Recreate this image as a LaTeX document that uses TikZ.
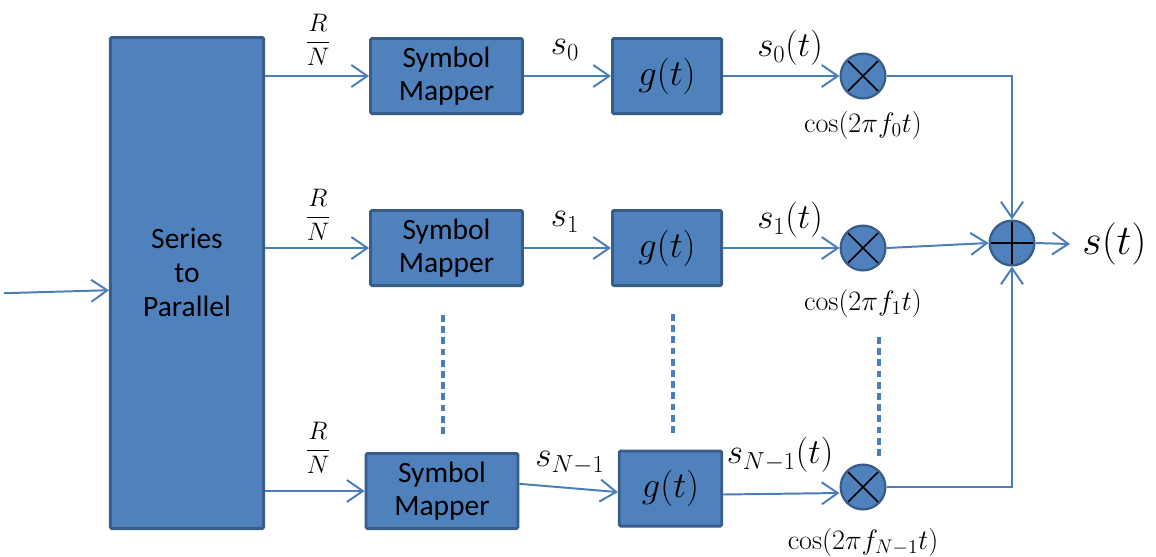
\documentclass[tikz,border=0pt]{standalone}
\usepackage{fix-cm}
\usepackage{amsmath}
\usepackage[no-math]{fontspec}
\setmainfont{Carlito}
\usetikzlibrary{positioning,calc,arrows,arrows.meta}
\definecolor{blkfill}{HTML}{4F81BD}
\definecolor{blkline}{HTML}{385D8A}
\definecolor{wirec}{HTML}{4A7EBB}

\begin{document}
\begin{tikzpicture}[
	blk/.style={draw=blkline, fill=blkfill, line width=2pt, rounded corners=1pt, inner sep=0pt, align=center, font=\fontsize{21}{24}\selectfont},
	sm/.style={blk, minimum width=3.8cm, minimum height=1.88cm},
	gf/.style={blk, minimum width=2.73cm, minimum height=1.88cm, font=\fontsize{26}{28}\selectfont},
	mul/.style={circle, draw=blkline, fill=blkfill, line width=1.6pt, minimum size=1.12cm, inner sep=0pt,
		path picture={\draw[black, line width=1.1pt] (path picture bounding box.center) +(45:0.6) -- +(225:0.6)
			(path picture bounding box.center) +(135:0.6) -- +(-45:0.6);}},
	add/.style={circle, draw=blkline, fill=blkfill, line width=1.6pt, minimum size=1.12cm, inner sep=0pt,
		path picture={\draw[black, line width=1pt] (path picture bounding box.center) +(0:0.6) -- +(180:0.6)
			(path picture bounding box.center) +(90:0.6) -- +(270:0.6);}},
	sig/.style={draw=wirec, line width=1.4pt, -{Straight Barb[length=4mm,width=5.5mm]}},
	conn/.style={draw=wirec, line width=1.4pt},
	dots/.style={draw=wirec, line width=2.2pt, dash pattern=on 0.17cm off 0.11cm},
	lbl/.style={inner sep=0pt, font=\fontsize{25}{28}\selectfont},
	rate/.style={inner sep=0pt, font=\fontsize{18}{20}\selectfont},
	cosl/.style={inner sep=0pt, font=\fontsize{20}{22}\selectfont}
	]
		\useasboundingbox (0,0) rectangle (28.9,-13.9);
		% splitter
		\node[blk, minimum width=3.83cm, minimum height=12.28cm] (SP) at (4.675,-7.075) {Series\\to\\Parallel\\[-0.3cm]};
		\coordinate (inp) at (0.1,-7.33);
		\draw[sig] (inp) -- ([yshift=-0.18cm]SP.west);
		% branch 0
		\node[sm] (SM0) at (11.1625,-1.9) {Symbol\\Mapper};
		\node[gf] (G0) at (16.675,-1.9) {$g(t)$};
		\node[mul] (M0) at (21.575,-1.9) {};
		% branch 1
		\node[sm] (SM1) at (11.1625,-6.2) {Symbol\\Mapper};
		\node[gf] (G1) at (16.675,-6.2) {$g(t)$};
		\node[mul] (M1) at (21.575,-6.2) {};
		% branch N-1
		\node[sm] (SM2) at (11.05,-12.275) {Symbol\\Mapper};
		\node[gf, minimum width=2.56cm] (G2) at (16.7625,-12.2125) {$g(t)$};
		\node[mul] (M2) at (21.575,-12.175) {};
		% adder
		\node[add] (sum) at (25.3,-6.075) {};
		\node[inner sep=0.3cm, anchor=west, font=\fontsize{30}{32}\selectfont] (st) at (26.75,-6.1) {$s(t)$};

		\draw[sig] (SP.east |- SM0.west) -- (SM0.west);
		\draw[sig] (SP.east |- SM1.west) -- (SM1.west);
		\draw[sig] (SP.east |- SM2.west) -- (SM2.west);
		\draw[sig] (SM0) -- (G0);
		\draw[sig] (SM1) -- (G1);
		\draw[sig] ([yshift=0.18cm]SM2.east) -- ([yshift=-0.09cm]G2.west);
		\draw[sig] (G0) -- (M0);
		\draw[sig] (G1) -- (M1);
		\draw[sig] ([yshift=-0.15cm]G2.east) -- ([yshift=-0.15cm]M2.west);
		\draw[sig] (M0.east) -| (sum.north);
		\draw[sig] (M1.east) -- (sum.west);
		\draw[sig] (M2.east) -| (sum.south);
		\draw[sig] (sum.east) -- (st.west);

		\draw[dots] (11.075,-7.875) -- (11.075,-10.875);
		\draw[dots] (16.825,-7.85) -- (16.825,-10.85);
		\draw[dots] (21.975,-8.425) -- (21.975,-11.425);

		\node[rate] (r0) at (7.95,-1.0) {$\dfrac{R}{N}$};
		\node[rate] (r1) at (7.95,-5.375) {$\dfrac{R}{N}$};
		\node[rate] (r2) at (7.95,-11.2) {$\dfrac{R}{N}$};
		\node[lbl] (s0) at (14.125,-1.25) {$s_0$};
		\node[lbl] (s1) at (14.125,-5.55) {$s_1$};
		\node[lbl] (s2) at (14.25,-11.575) {$s_{N-1}$};
		\node[lbl] (s0t) at (19.75,-1.2) {$s_0(t)$};
		\node[lbl] (s1t) at (19.75,-5.5) {$s_1(t)$};
		\node[lbl] (s2t) at (19.5,-11.375) {$s_{N-1}(t)$};
		\node[cosl] (c0) at (21.575,-3.125) {$\cos(2\pi f_0 t)$};
		\node[cosl] (c1) at (21.575,-7.575) {$\cos(2\pi f_1 t)$};
		\node[cosl] (c2) at (21.575,-13.55) {$\cos(2\pi f_{N-1} t)$};
	\end{tikzpicture}
\end{document}
